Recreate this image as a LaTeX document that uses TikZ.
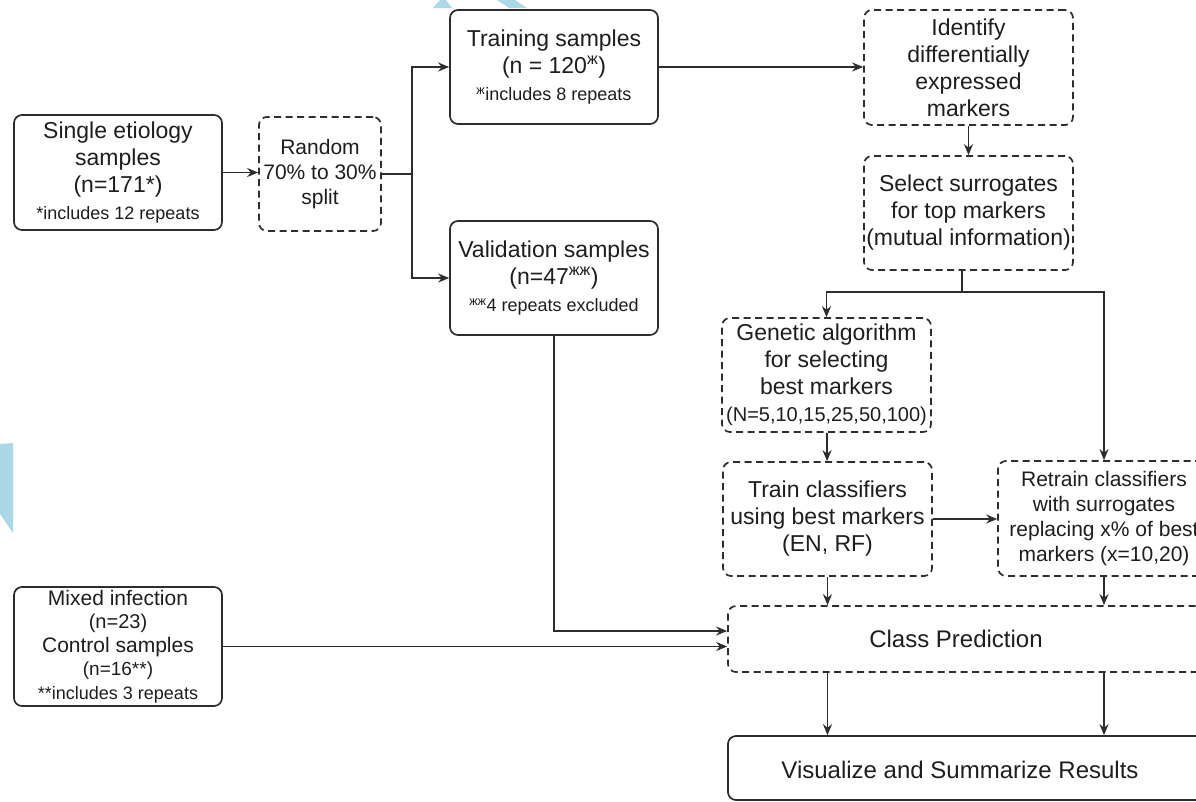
\documentclass[tikz,border=0pt]{standalone}
\usepackage{fontspec}
\setmainfont{Liberation Sans}
\usetikzlibrary{arrows.meta}

\definecolor{linegray}{RGB}{45,45,45}
\definecolor{textgray}{RGB}{30,30,30}
\definecolor{wmarkblue}{RGB}{170,216,230}

\newcommand{\maintxt}{\fontsize{23}{27}\selectfont}
\newcommand{\midtxt}{\fontsize{21}{25}\selectfont}
\newcommand{\smalltxt}{\fontsize{18}{22}\selectfont}
\newcommand{\widetxt}{\fontsize{24}{28}\selectfont}

\tikzset{
  solidbox/.style={draw=linegray, line width=1.7pt, rounded corners=8pt, align=center,
    inner sep=0pt, text=textgray, font=\maintxt},
  dashbox/.style={solidbox, dash pattern=on 7pt off 4.5pt},
  flow/.style={draw=linegray, line width=1.7pt, -{Stealth[length=11pt,width=9pt]}},
  wire/.style={draw=linegray, line width=1.7pt},
}

\begin{document}
\begin{tikzpicture}[x=1pt,y=-1pt]
        \useasboundingbox (0,0) rectangle (1196,801);
        \fill[white] (0,0) rectangle (1196,801);

        % pezzi della filigrana sui bordi
        \fill[wmarkblue] (433,8) -- (452,8) -- (446,0) -- (440,0) -- cycle;
        \fill[wmarkblue] (497,0) -- (515,0) -- (527,8) -- (509,8) -- cycle;
        \fill[wmarkblue] (0,444) -- (13,443) -- (13,533) -- (0,514) -- cycle;

        % campioni e suddivisione
        \node[solidbox, minimum width=208pt, minimum height=115pt] (single) at (118,172.5)
          {Single etiology\\ samples\\ (n=171*)\\ {\smalltxt *includes 12 repeats}};
        \node[dashbox, minimum width=122pt, minimum height=114pt, font=\midtxt] (split) at (320,174)
          {Random\\ 70\% to 30\%\\ split};
        \node[solidbox, minimum width=208pt, minimum height=114pt] (train) at (554,67)
          {Training samples\\ (n = 120\textsuperscript{ж})\\ {\smalltxt \textsuperscript{ж}includes 8 repeats}};
        \node[solidbox, minimum width=208pt, minimum height=114pt] (valid) at (554,278)
          {Validation samples\\ (n=47\textsuperscript{жж})\\ {\smalltxt \textsuperscript{жж}4 repeats excluded}};
        \node[solidbox, minimum width=208pt, minimum height=119pt, font=\fontsize{21}{23.5}\selectfont] (mixed) at (118,646.5)
          {Mixed infection\\ {\fontsize{20}{23.5}\selectfont (n=23)}\\ Control samples\\
           {\fontsize{19}{23.5}\selectfont (n=16**)}\\ {\fontsize{18}{21}\selectfont **includes 3 repeats}};

        % selezione dei marcatori
        \node[dashbox, minimum width=209pt, minimum height=115pt] (ident) at (968.5,67.5)
          {Identify\\ differentially\\ expressed\\ markers};
        \node[dashbox, minimum width=209pt, minimum height=114pt] (select) at (968.5,213)
          {Select surrogates\\ for top markers\\ (mutual information)};
        \node[dashbox, minimum width=209pt, minimum height=114pt] (genetic) at (826.5,375)
          {Genetic algorithm\\ for selecting\\ best markers\\ {\fontsize{20}{24}\selectfont (N=5,10,15,25,50,100)}};
        \node[dashbox, minimum width=209pt, minimum height=114pt] (trainclf) at (827.5,519)
          {Train classifiers\\ using best markers\\ (EN, RF)};
        \node[dashbox, minimum width=212pt, minimum height=115pt, font=\midtxt] (retrain) at (1104,518.5)
          {Retrain classifiers\\ with surrogates\\ replacing x\% of best\\ markers (x=10,20)};

        % predizione e risultati
        \node[dashbox, minimum width=487pt, minimum height=66pt] (pred) at (971.5,639) {};
        \node[text=textgray, font=\widetxt] (predtxt) at (956,639) {Class Prediction};
        \node[solidbox, minimum width=487pt, minimum height=64pt] (vis) at (971.5,768) {};
        \node[text=textgray, font=\widetxt] (vistxt) at (960,770) {Visualize and Summarize Results};

        % frecce
        \coordinate (fork) at (412,174);
        \coordinate (bus) at (962,292);
        \draw[flow] (single.east) -- (single.east -| split.west);
        \draw[wire] (split.east) -- (fork);
        \draw[flow] (fork) |- (train.west);
        \draw[flow] (fork) |- (valid.west);
        \draw[flow] (train.east) -- (train.east -| ident.west);
        \draw[flow] (ident) -- (select);
        \draw[wire] (select.south -| bus) -- (bus);
        \draw[flow] (bus) -| (genetic.north);
        \draw[flow] (bus) -| (retrain.north);
        \draw[flow] (genetic) -- (trainclf);
        \draw[flow] (trainclf.east) -- (trainclf.east -| retrain.west);
        \draw[flow] (trainclf.south) -- (trainclf.south |- pred.north);
        \draw[flow] (retrain.south) -- (retrain.south |- pred.north);
        \draw[flow] (valid.south) |- ([yshift=8pt]pred.west);
        \draw[flow] (mixed.east) -- (mixed.east -| pred.west);
        \draw[flow] (pred.south -| trainclf) -- (vis.north -| trainclf);
        \draw[flow] (pred.south -| retrain) -- (vis.north -| retrain);
\end{tikzpicture}
\end{document}
